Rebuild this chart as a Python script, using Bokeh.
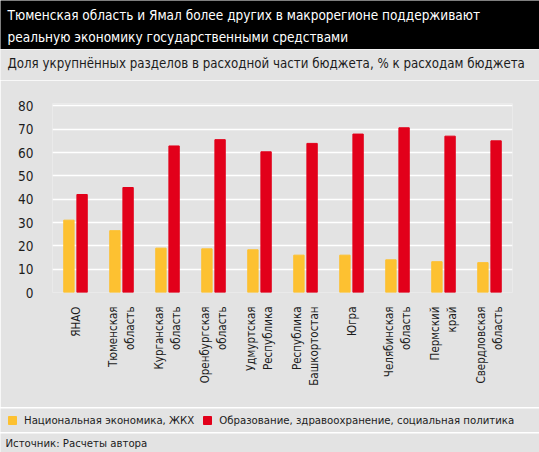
from bokeh.plotting import figure
from bokeh.models import ColumnDataSource, FixedTicker, Label, Legend, LegendItem, Range1d
from bokeh.layouts import column
from bokeh.transform import dodge
from bokeh.embed import file_html
from bokeh.resources import INLINE

# --- данные ---
regions = ["ЯНАО", "Тюменская\nобласть", "Курганская\nобласть", "Оренбургская\nобласть",
           "Удмуртская\nРеспублика", "Республика\nБашкортостан", "Югра",
           "Челябинская\nобласть", "Пермский\nкрай", "Свердловская\nобласть"]
economy = [31, 26.5, 19, 18.7, 18.3, 16, 16, 14, 13.2, 12.8]
social = [42, 45, 62.8, 65.5, 60.3, 63.9, 67.9, 70.6, 67, 65]
y_ticks = [0, 10, 20, 30, 40, 50, 60, 70, 80]

series_names = ["Национальная экономика, ЖКХ",
                "Образование, здравоохранение, социальная политика"]
title_lines = ["Тюменская область и Ямал более других в макрорегионе поддерживают",
               "реальную экономику государственными средствами"]
subtitle = "Доля укрупнённых разделов в расходной части бюджета, % к расходам бюджета"
source_note = "Источник: Расчеты автора"

FONT = "DejaVu Sans Condensed"
BG = "#e3e3e3"
YELLOW = "#fdc131"
RED = "#e2001a"
INK = "#1c1c1c"
W = 539


def strip(h, fill):
    # полоса без осей: рамка = весь холст
    f = figure(width=W, height=h, toolbar_location=None, output_backend="svg",
               x_range=Range1d(0, 1), y_range=Range1d(0, 1), min_border=0,
               x_axis_location=None, y_axis_location=None)
    f.background_fill_color = fill
    f.border_fill_color = fill
    f.outline_line_color = None
    f.grid.visible = False
    return f


def note(f, txt, x, y, size, color=INK):
    f.add_layout(Label(x=x, y=y, x_units="screen", y_units="screen", text=txt,
                       text_font=FONT, text_font_size=size, text_color=color,
                       text_baseline="middle"))


# --- шапка ---
head = strip(49, "black")
note(head, title_lines[0], 7, 35, "13.5px", "white")
note(head, title_lines[1], 7, 13, "13.5px", "white")

sub = strip(31, BG)
note(sub, subtitle, 7, 17, "13.2px")

# --- график ---
src = ColumnDataSource(dict(region=regions, economy=economy, social=social))

p = figure(x_range=regions, y_range=Range1d(0, 81), width=W, height=327,
           frame_width=460, frame_height=189,
           min_border_left=52, min_border_right=27, min_border_top=23, min_border_bottom=115,
           toolbar_location=None, output_backend="svg")
p.background_fill_color = BG
p.border_fill_color = BG
p.outline_line_color = None

p.vbar(x=dodge("region", -0.143, range=p.x_range), top="economy", width=0.225,
       source=src, color=YELLOW)
p.vbar(x=dodge("region", 0.143, range=p.x_range), top="social", width=0.225,
       source=src, color=RED)

p.xgrid.grid_line_color = None
p.ygrid.grid_line_color = "white"
p.ygrid.grid_line_width = 1.5
p.ygrid.ticker = FixedTicker(ticks=y_ticks)

p.yaxis.ticker = FixedTicker(ticks=y_ticks)
p.axis.axis_line_color = None
p.axis.major_tick_line_color = None
p.axis.minor_tick_line_color = None
p.yaxis.major_label_text_font = FONT
p.yaxis.major_label_text_font_size = "13.5px"
p.yaxis.major_label_text_color = INK
p.yaxis.major_label_standoff = 13
p.xaxis.major_label_orientation = 3.14159265 / 2
p.xaxis.major_label_text_font = FONT
p.xaxis.major_label_text_font_size = "11.5px"
p.xaxis.major_label_text_color = INK
p.xaxis.major_label_standoff = 8

# --- легенда: скрытые копии рядов дают образцы цвета ---
leg = strip(24, BG)
idx = list(range(len(regions)))
s1 = leg.vbar(x=idx, top=economy, width=0.2, color=YELLOW, visible=False)
s2 = leg.vbar(x=idx, top=social, width=0.2, color=RED, visible=False)
leg.add_layout(Legend(items=[LegendItem(label=series_names[0], renderers=[s1]),
                             LegendItem(label=series_names[1], renderers=[s2])],
                      location=(7, 5.5), orientation="horizontal",
                      glyph_width=10, glyph_height=10, label_standoff=7, spacing=8,
                      padding=0, margin=0, border_line_color=None, background_fill_alpha=0,
                      inactive_fill_alpha=0,
                      label_text_font=FONT, label_text_font_size="11.3px",
                      label_text_color=INK))

foot = strip(19, BG)
note(foot, source_note, 5, 9, "11.3px")

top = column(column(head, sub, spacing=0), p, spacing=0)
layout = column(top, column(leg, foot, spacing=1), spacing=1)
open("out.html", "w").write(file_html(layout, INLINE))
